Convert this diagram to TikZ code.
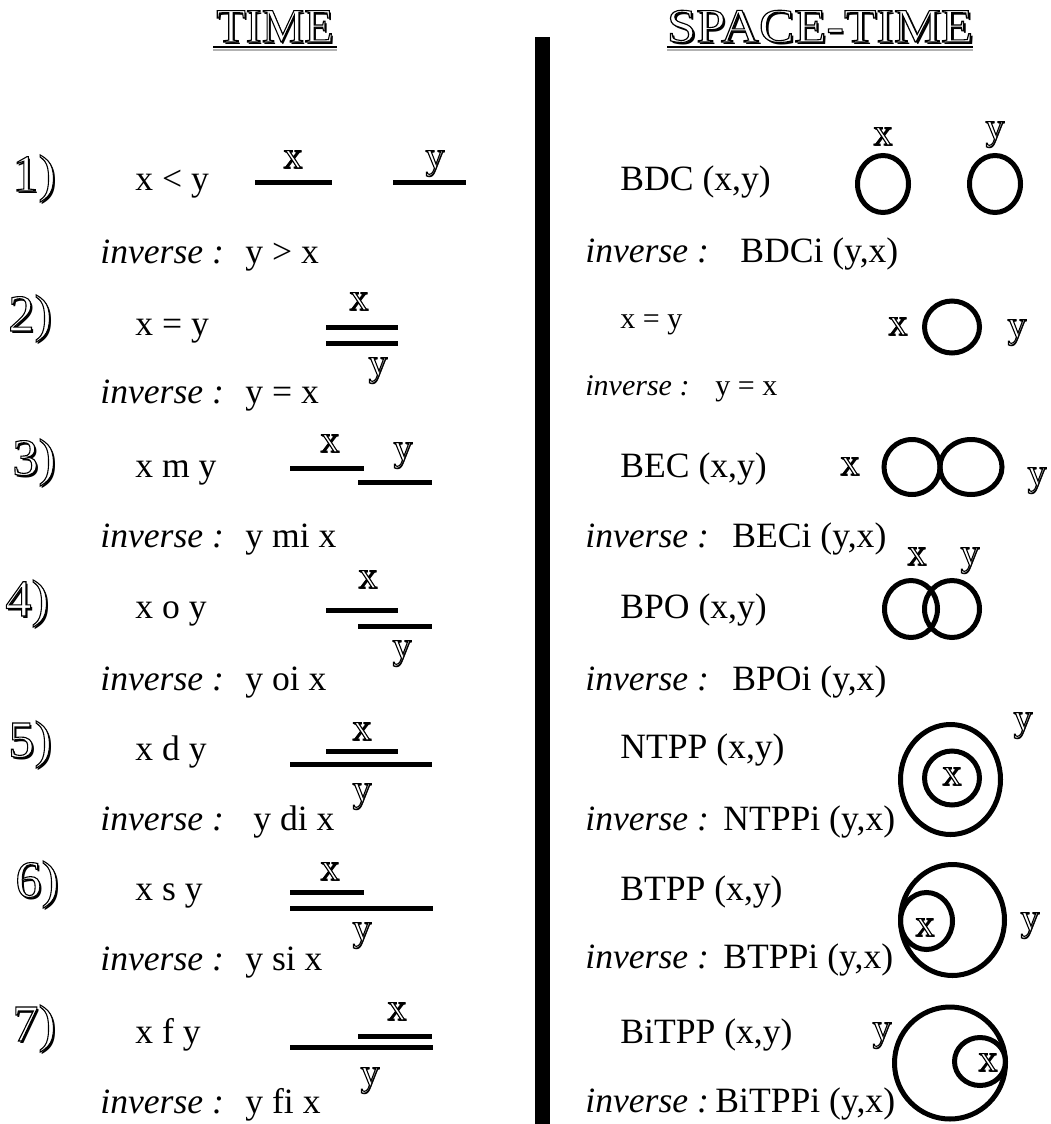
\documentclass[tikz,border=0pt]{standalone}
\usepackage{fontspec}
\setmainfont{Liberation Serif}
\usepackage{xcolor}
\newcommand\olt[2][0.6pt]{\leavevmode\rlap{\kern#1\raisebox{-#1}{#2}}\special{pdf:literal direct 2 Tr 0.55 w 1 g}#2\special{pdf:literal direct 0 Tr 0 g}}
\begin{document}
\begin{tikzpicture}[x=0.5pt,y=-0.5pt,
  txt/.style={anchor=base west,inner sep=0pt,font=\fontsize{17.8}{20}\selectfont},
  sm/.style={anchor=base west,inner sep=0pt,font=\fontsize{15}{18}\selectfont},
  lbl/.style={anchor=base,inner sep=0pt,font=\fontsize{19}{20}\selectfont},
  num/.style={anchor=base west,inner sep=0pt,font=\fontsize{26}{28}\selectfont},
  ttl/.style={anchor=base,inner sep=0pt,font=\fontsize{24}{28}\selectfont},
  seg/.style={line width=2.5pt},
  reg/.style={line width=2.5pt}]
\useasboundingbox (0,0) rectangle (1050,1124);
% titles
\node[ttl] (t1) at (275,42) {\olt[1pt]{TIME}};
\node[ttl,xscale=1.1] (t2) at (820,42) {\olt[1pt]{SPACE-TIME}};
\draw[line width=1pt] (213,46.5) -- (337,46.5);
\draw[line width=1pt,gray!60] (213,49.5) -- (337,49.5);
\draw[line width=1pt] (667,46.5) -- (973,46.5);
\draw[line width=1pt,gray!60] (667,49.5) -- (973,49.5);
% divider
\fill (535,37) rectangle (550,1124);
% numbers
\node[num] (n1) at (12,191) {\olt[1pt]{1)}};
\node[num] (n2) at (8,331) {\olt[1pt]{2)}};
\node[num] (n3) at (12,475) {\olt[1pt]{3)}};
\node[num] (n4) at (5,616) {\olt[1pt]{4)}};
\node[num] (n5) at (8,757) {\olt[1pt]{5)}};
\node[num] (n6) at (15,897) {\olt[1pt]{6)}};
\node[num] (n7) at (12,1041) {\olt[1pt]{7)}};
% left relations
\node[txt] (l1) at (135,190) {x < y};
\node[txt] (l2) at (135,335) {x = y};
\node[txt] (l3) at (135,477) {x m y};
\node[txt] (l4) at (135,618) {x o y};
\node[txt] (l5) at (135,760) {x d y};
\node[txt] (l6) at (135,900) {x s y};
\node[txt] (l7) at (135,1043) {x f y};
% left inverses
\node[txt] (li1) at (100,263) {\textit{inverse :}};
\node[txt] (lv1) at (245,263) {y > x};
\node[txt] (li2) at (100,403) {\textit{inverse :}};
\node[txt] (lv2) at (245,403) {y = x};
\node[txt] (li3) at (100,547) {\textit{inverse :}};
\node[txt] (lv3) at (245,547) {y mi x};
\node[txt] (li4) at (100,690) {\textit{inverse :}};
\node[txt] (lv4) at (245,690) {y oi x};
\node[txt] (li5) at (100,830) {\textit{inverse :}};
\node[txt] (lv5) at (253,830) {y di x};
\node[txt] (li6) at (100,970) {\textit{inverse :}};
\node[txt] (lv6) at (245,970) {y si x};
\node[txt] (li7) at (100,1113) {\textit{inverse :}};
\node[txt] (lv7) at (245,1113) {y fi x};
% time segments
\draw[seg] (255,182) -- (332,182);  \draw[seg] (393,182) -- (466,182);
\node[lbl] (a1x) at (293,168) {\olt{x}}; \node[lbl] (a1y) at (435,168) {\olt{y}};
\draw[seg] (326,327) -- (398,327);  \draw[seg] (326,343) -- (398,343);
\node[lbl] (a2x) at (359,310) {\olt{x}}; \node[lbl] (a2y) at (378,375) {\olt{y}};
\draw[seg] (290,468) -- (364,468);  \draw[seg] (358,482) -- (432,482);
\node[lbl] (a3x) at (330,452) {\olt{x}}; \node[lbl] (a3y) at (403,460) {\olt{y}};
\draw[seg] (326,610) -- (398,610);  \draw[seg] (358,626) -- (432,626);
\node[lbl] (a4x) at (368,588) {\olt{x}}; \node[lbl] (a4y) at (402,658) {\olt{y}};
\draw[seg] (326,751) -- (398,751);  \draw[seg] (290,764) -- (432,764);
\node[lbl] (a5x) at (362,740) {\olt{x}}; \node[lbl] (a5y) at (362,801) {\olt{y}};
\draw[seg] (290,892) -- (364,892);  \draw[seg] (290,908) -- (433,908);
\node[lbl] (a6x) at (330,880) {\olt{x}}; \node[lbl] (a6y) at (362,940) {\olt{y}};
\draw[seg] (358,1036) -- (432,1036);  \draw[seg] (290,1047) -- (433,1047);
\node[lbl] (a7x) at (397,1020) {\olt{x}}; \node[lbl] (a7y) at (370,1085) {\olt{y}};
% right relations
\node[txt] (r1) at (620,190) {BDC (x,y)};
\node[sm]  (r2) at (620,328) {x = y};
\node[txt] (r3) at (620,477) {BEC (x,y)};
\node[txt] (r4) at (620,618) {BPO (x,y)};
\node[txt] (r5) at (620,758) {NTPP (x,y)};
\node[txt] (r6) at (620,900) {BTPP (x,y)};
\node[txt] (r7) at (620,1043) {BiTPP (x,y)};
% right inverses
\node[txt] (ri1) at (585,262) {\textit{inverse :}};
\node[txt] (rv1) at (740,262) {BDCi (y,x)};
\node[sm]  (ri2) at (585,395) {\textit{inverse :}};
\node[sm]  (rv2) at (715,395) {y = x};
\node[txt] (ri3) at (585,547) {\textit{inverse :}};
\node[txt] (rv3) at (732,547) {BECi (y,x)};
\node[txt] (ri4) at (585,690) {\textit{inverse :}};
\node[txt] (rv4) at (732,690) {BPOi (y,x)};
\node[txt] (ri5) at (585,830) {\textit{inverse :}};
\node[txt] (rv5) at (723,830) {NTPPi (y,x)};
\node[txt] (ri6) at (585,968) {\textit{inverse :}};
\node[txt] (rv6) at (723,968) {BTPPi (y,x)};
\node[txt] (ri7) at (585,1112) {\textit{inverse :}};
\node[txt] (rv7) at (715,1112) {BiTPPi (y,x)};
% regions
\draw[reg] (883,184) ellipse [x radius=25.5,y radius=28.5];
\draw[reg] (995,184) ellipse [x radius=25.5,y radius=28.5];
\node[lbl] (b1x) at (883,145) {\olt{x}}; \node[lbl] (b1y) at (995,139) {\olt{y}};
\draw[reg] (952,327) ellipse [x radius=27.5,y radius=26];
\node[lbl] (b2x) at (898,335) {\olt{x}}; \node[lbl] (b2y) at (1017,337) {\olt{y}};
\draw[reg] (912,467) ellipse [x radius=28,y radius=27.5];
\draw[reg] (971,467) ellipse [x radius=31,y radius=27.5];
\node[lbl] (b3x) at (850,475) {\olt{x}}; \node[lbl] (b3y) at (1037,485) {\olt{y}};
\draw[reg] (911,609) ellipse [x radius=26.5,y radius=28.5];
\draw[reg] (952,609) ellipse [x radius=27.5,y radius=28.5];
\node[lbl] (b4x) at (917,565) {\olt{x}}; \node[lbl] (b4y) at (970,565) {\olt{y}};
\draw[reg] (950.5,779.5) ellipse [x radius=50,y radius=55];
\draw[reg] (952,778) ellipse [x radius=27.5,y radius=27];
\node[lbl] (b5x) at (952,785) {\olt{x}}; \node[lbl] (b5y) at (1023,730) {\olt{y}};
\draw[reg] (952.5,920) ellipse [x radius=52,y radius=55.5];
\draw[reg] (926.5,921) ellipse [x radius=26,y radius=28.5];
\node[lbl] (b6x) at (925,936) {\olt{x}}; \node[lbl] (b6y) at (1030,930) {\olt{y}};
\draw[reg] (950,1063) ellipse [x radius=55.5,y radius=56];
\draw[reg] (980,1061.5) ellipse [x radius=25.5,y radius=24];
\node[lbl] (b7x) at (988,1071) {\olt{x}}; \node[lbl] (b7y) at (882,1040) {\olt{y}};
\end{tikzpicture}
\end{document}
